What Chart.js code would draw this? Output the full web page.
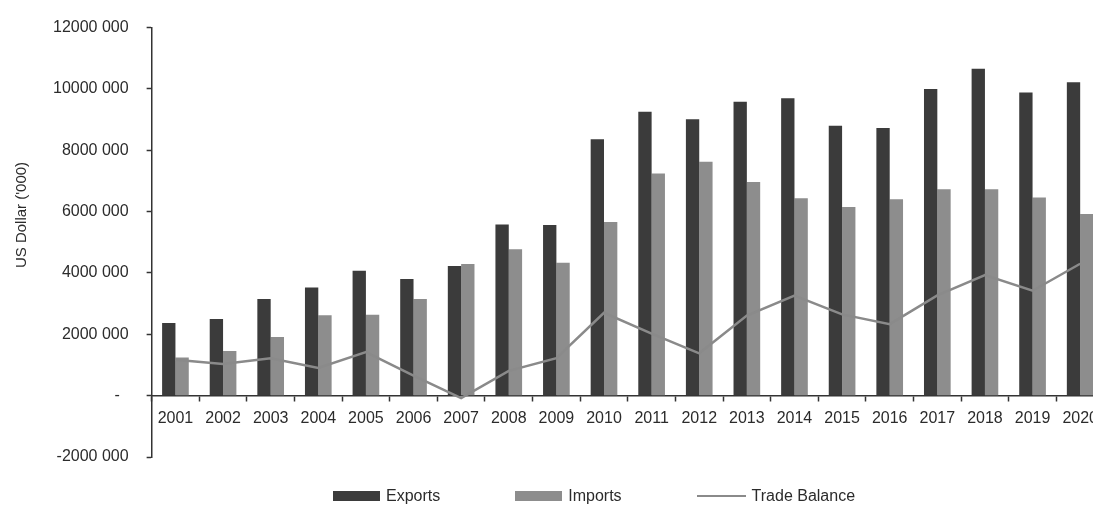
<!DOCTYPE html>
<html>
<head>
<meta charset="utf-8">
<script src="https://cdn.jsdelivr.net/npm/chart.js@4.4.0/dist/chart.umd.min.js"></script>
<style>
  html, body {
    margin: 0;
    padding: 0;
    background: #fff;
    overflow: hidden;
    font-family: "Liberation Sans", Arial, sans-serif;
  }
  .chart-wrap {
    position: relative;
    width: 1106px;
    height: 507px;
  }
  .legend {
    position: absolute;
    left: 333px;
    top: 488px;
    display: flex;
    align-items: center;
    font-size: 16px;
    color: #2b2b2b;
    line-height: 1;
  }
  .legend-item {
    display: flex;
    align-items: center;
    margin-right: 75px;
  }
  .legend-box {
    width: 47px;
    height: 10px;
    margin-right: 6px;
  }
  .legend-line {
    width: 49px;
    height: 2px;
    margin-right: 6px;
  }
</style>
</head>
<body>
<div class="chart-wrap">
  <canvas id="tradeChart"></canvas>
  <div class="legend" id="legend"></div>
</div>
<script>
const years = ["2001", "2002", "2003", "2004", "2005", "2006", "2007", "2008", "2009", "2010",
  "2011", "2012", "2013", "2014", "2015", "2016", "2017", "2018", "2019", "2020"];

const exportsValues = [2370000, 2500000, 3150000, 3530000, 4070000, 3800000, 4230000, 5580000, 5560000, 8360000,
  9260000, 9010000, 9580000, 9700000, 8800000, 8730000, 10000000, 10660000, 9880000, 10220000];

const importsValues = [1240000, 1460000, 1910000, 2620000, 2640000, 3150000, 4290000, 4770000, 4330000, 5660000,
  7240000, 7630000, 6970000, 6440000, 6150000, 6400000, 6730000, 6730000, 6460000, 5920000];

const balanceValues = [1170000, 1030000, 1220000, 900000, 1420000, 650000, -80000, 810000, 1220000, 2700000,
  2020000, 1380000, 2610000, 3260000, 2650000, 2330000, 3270000, 3930000, 3420000, 4300000];

const yMin = -2000000;
const yMax = 12000000;
const yStep = 2000000;
const yTitle = "US Dollar ('000)";

document.addEventListener("DOMContentLoaded", function () {
  const font = '"Liberation Sans", Arial, sans-serif';
  const axisColor = "#333333";

  // rotated axis title, sits a bit above the middle like the original
  const yTitlePlugin = {
    id: "yTitle",
    afterDraw(chart) {
      const ctx = chart.ctx;
      ctx.save();
      ctx.translate(22, 215);
      ctx.rotate(-Math.PI / 2);
      ctx.font = "15px " + font;
      ctx.fillStyle = "#2b2b2b";
      ctx.textAlign = "center";
      ctx.textBaseline = "middle";
      ctx.fillText(yTitle, 0, 0);
      ctx.restore();
    },
  };

  const ctx = document.getElementById("tradeChart").getContext("2d");
  const chart = new Chart(ctx, {
    type: "bar",
    data: {
      labels: years,
      datasets: [
        {
          type: "line",
          label: "Trade Balance",
          data: balanceValues,
          borderColor: "#8a8a8a",
          borderWidth: 2.5,
          pointRadius: 0,
          tension: 0,
          order: 0,
        },
        {
          label: "Exports",
          data: exportsValues,
          backgroundColor: "#3b3b3b",
          borderWidth: 0,
          categoryPercentage: 0.56,
          barPercentage: 1.0,
          order: 1,
        },
        {
          label: "Imports",
          data: importsValues,
          backgroundColor: "#8d8d8d",
          borderWidth: 0,
          categoryPercentage: 0.56,
          barPercentage: 1.0,
          order: 2,
        },
      ],
    },
    options: {
      responsive: true,
      maintainAspectRatio: false,
      animation: false,
      layout: {
        padding: { left: 35, top: 21, right: 1, bottom: 50 },
      },
      plugins: {
        legend: { display: false },
        tooltip: { enabled: false },
      },
      scales: {
        x: {
          position: { y: 0 },
          afterFit: function (scale) {
            scale.height = 0;
          },
          grid: {
            display: true,
            drawOnChartArea: false,
            drawTicks: true,
            tickLength: 5,
            tickWidth: 1.5,
            color: axisColor,
          },
          border: { display: true, color: axisColor, width: 1.5 },
          ticks: {
            color: "#2b2b2b",
            font: { family: font, size: 16 },
            padding: 8,
            maxRotation: 0,
            autoSkip: false,
          },
        },
        y: {
          min: yMin,
          max: yMax,
          grid: {
            display: true,
            drawOnChartArea: false,
            drawTicks: true,
            tickLength: 5,
            tickWidth: 1.5,
            color: axisColor,
          },
          border: { display: true, color: axisColor, width: 1.5 },
          ticks: {
            stepSize: yStep,
            color: "#2b2b2b",
            font: { family: font, size: 16 },
            padding: 18,
            callback: function (v) {
              if (v === 0) return "-\u2007";
              return (v < 0 ? "-" : "") + Math.abs(v / 1000) + " 000";
            },
          },
        },
      },
    },
    plugins: [yTitlePlugin],
  });

  // legend built from the datasets
  const legend = document.getElementById("legend");
  const legendOrder = [1, 2, 0];
  legendOrder.forEach((i) => {
    const ds = chart.data.datasets[i];
    const item = document.createElement("div");
    item.className = "legend-item";
    const swatch = document.createElement("div");
    if (ds.type === "line") {
      swatch.className = "legend-line";
      swatch.style.background = ds.borderColor;
    } else {
      swatch.className = "legend-box";
      swatch.style.background = ds.backgroundColor;
    }
    const text = document.createElement("span");
    text.textContent = ds.label;
    item.appendChild(swatch);
    item.appendChild(text);
    legend.appendChild(item);
  });
});
</script>
</body>
</html>
